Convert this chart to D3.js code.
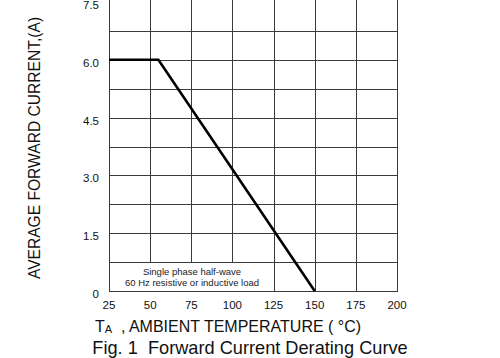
<!DOCTYPE html>
<html>
<head>
<meta charset="utf-8">
<script src="https://cdn.jsdelivr.net/npm/d3@7"></script>
<style>
  html, body { margin: 0; padding: 0; background: #fff; }
  svg { display: block; font-family: "Liberation Sans", Arial, sans-serif; }
</style>
</head>
<body>
<div id="root"></div>
<script>
const tempTicks = [25, 50, 75, 100, 125, 150, 175, 200];
const currentTicks = [0, 1.5, 3.0, 4.5, 6.0, 7.5];
const gridCurrents = [0.75, 1.5, 2.25, 3.0, 3.75, 4.5, 5.25, 6.0, 6.75];
const curveTemp = [25, 55, 150];
const curveCurrent = [6.0, 6.0, 0];
const noteLines = ["Single phase half-wave", "60 Hz resistive or inductive load"];
const noteSpan = [25, 125, 0, 0.75];

derating(window.d3);

function derating(d3) {
  const width = 500;
  const height = 358;
  const margin = { top: 2, right: 103, bottom: 67, left: 109 };

  const svg = d3.select("#root").append("svg")
    .attr("width", width)
    .attr("height", height);

  const x = d3.scaleLinear()
    .domain([25, 200])
    .range([margin.left, width - margin.right]);

  const y = d3.scaleLinear()
    .domain([0, 7.5])
    .range([height - margin.bottom, margin.top]);

  const gridColor = "#3a3a3a";
  const top = y(7.5) - 3;

  // horizontal grid
  svg.append("g")
    .selectAll("line")
    .data(gridCurrents)
    .join("line")
    .attr("x1", x(25))
    .attr("x2", x(200))
    .attr("y1", d => Math.round(y(d)) + 0.5)
    .attr("y2", d => Math.round(y(d)) + 0.5)
    .attr("stroke", gridColor)
    .attr("stroke-width", 1);

  // vertical grid
  svg.append("g")
    .selectAll("line")
    .data(tempTicks)
    .join("line")
    .attr("x1", d => Math.round(x(d)) + 0.5)
    .attr("x2", d => Math.round(x(d)) + 0.5)
    .attr("y1", top)
    .attr("y2", Math.round(y(0)) + 0.5)
    .attr("stroke", gridColor)
    .attr("stroke-width", 1);

  // bottom axis line
  svg.append("line")
    .attr("x1", Math.round(x(25)))
    .attr("x2", Math.round(x(200)) + 1)
    .attr("y1", Math.round(y(0)) + 0.5)
    .attr("y2", Math.round(y(0)) + 0.5)
    .attr("stroke", gridColor)
    .attr("stroke-width", 1);

  // note box
  const nx0 = Math.round(x(noteSpan[0])) + 0.5;
  const nx1 = Math.round(x(noteSpan[1])) + 0.5;
  const ny0 = Math.round(y(noteSpan[3])) + 0.5;
  const ny1 = Math.round(y(noteSpan[2])) + 0.5;
  svg.append("rect")
    .attr("x", nx0)
    .attr("y", ny0)
    .attr("width", nx1 - nx0)
    .attr("height", ny1 - ny0)
    .attr("fill", "#fff")
    .attr("stroke", gridColor)
    .attr("stroke-width", 1);

  svg.append("g")
    .selectAll("text")
    .data(noteLines)
    .join("text")
    .attr("x", (nx0 + nx1) / 2)
    .attr("y", (d, i) => ny0 + 12.5 + i * 10.5)
    .attr("text-anchor", "middle")
    .attr("font-size", "9.5px")
    .attr("fill", "#222")
    .text(d => d);

  // curve
  const line = d3.line()
    .x(d => x(d[0]))
    .y(d => y(d[1]));

  svg.append("path")
    .datum(d3.zip(curveTemp, curveCurrent))
    .attr("d", line)
    .attr("fill", "none")
    .attr("stroke", "#000")
    .attr("stroke-width", 2.6)
    .attr("stroke-linejoin", "miter");

  // tick labels
  svg.append("g")
    .selectAll("text")
    .data(currentTicks)
    .join("text")
    .attr("x", x(25) - 10)
    .attr("y", d => y(d) + 7)
    .attr("text-anchor", "end")
    .attr("font-size", "11.5px")
    .attr("fill", "#111")
    .text(d => (d === 0 ? "0" : d3.format(".1f")(d)));

  svg.append("g")
    .selectAll("text")
    .data(tempTicks)
    .join("text")
    .attr("x", d => x(d))
    .attr("y", y(0) + 18)
    .attr("text-anchor", "middle")
    .attr("font-size", "11.5px")
    .attr("fill", "#111")
    .text(d => d);

  // axis titles
  const xTitle = svg.append("text")
    .attr("x", 228)
    .attr("y", y(0) + 41)
    .attr("text-anchor", "middle")
    .attr("font-size", "16px")
    .attr("fill", "#111")
    .attr("xml:space", "preserve");
  xTitle.append("tspan").text("T");
  xTitle.append("tspan").attr("font-size", "11px").attr("dy", 1).text("A");
  xTitle.append("tspan").attr("dy", -1).text("  , AMBIENT TEMPERATURE ( °C)");

  svg.append("text")
    .attr("transform", "translate(40, 148) rotate(-90)")
    .attr("text-anchor", "middle")
    .attr("font-size", "15.6px")
    .attr("fill", "#111")
    .text("AVERAGE FORWARD CURRENT,(A)");

  svg.append("text")
    .attr("x", 250)
    .attr("y", height - 4)
    .attr("text-anchor", "middle")
    .attr("font-size", "18.2px")
    .attr("fill", "#111")
    .attr("xml:space", "preserve")
    .text("Fig. 1  Forward Current Derating Curve");
}
</script>
</body>
</html>
